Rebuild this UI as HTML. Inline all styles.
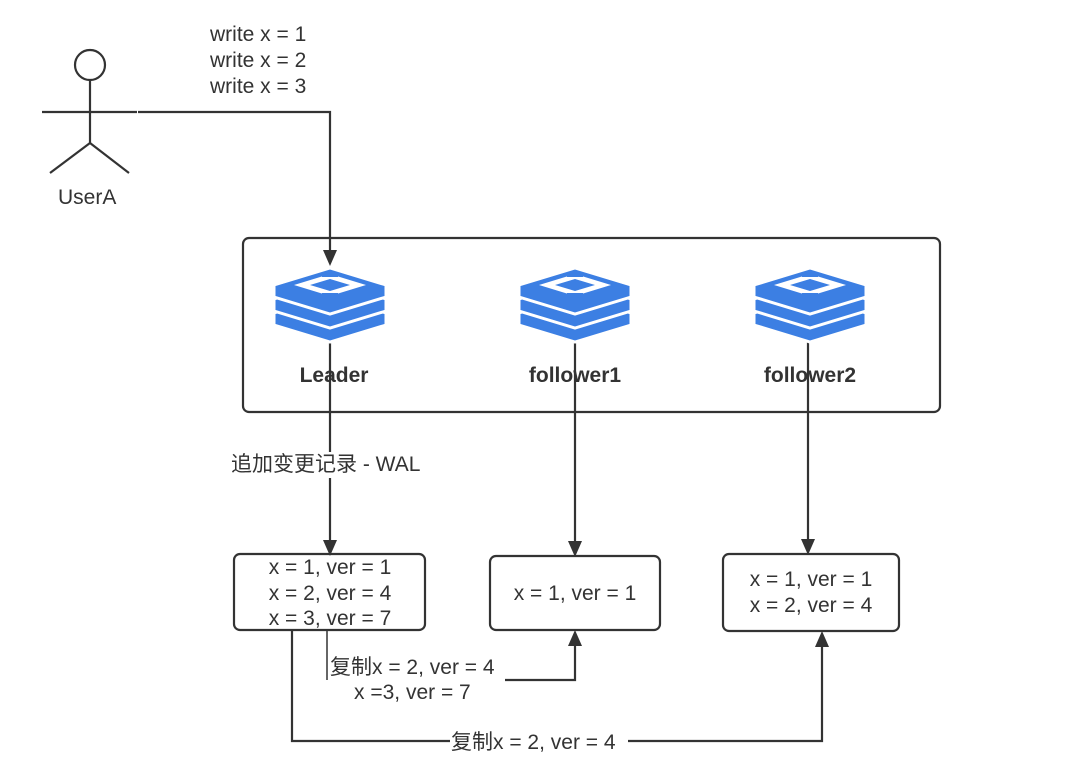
<!DOCTYPE html>
<html><head><meta charset="utf-8"><style>
html,body{margin:0;padding:0;background:#fff;}
svg{display:block;}
text{font-family:"Liberation Sans","Noto Sans CJK SC",sans-serif;fill:#333;font-size:21px;}
</style></head><body>
<svg width="1080" height="769" viewBox="0 0 1080 769" xmlns="http://www.w3.org/2000/svg">
<defs>
<g id="icon">
  <polygon points="0,28 56,45 56,57 0,74 -56,57 -56,45" fill="#3c7fe3" stroke="#fff" stroke-width="3"/>
  <polygon points="0,14 56,31 56,43 0,60 -56,43 -56,31" fill="#3c7fe3" stroke="#fff" stroke-width="3"/>
  <polygon points="0,0 56,17 56,29 0,46 -56,29 -56,17" fill="#3c7fe3" stroke="#fff" stroke-width="3"/>
  <polygon points="0,6 36,17 0,28 -36,17" fill="#fff"/>
  <polygon points="0,11 20,17 0,23 -20,17" fill="#3c7fe3"/>
  <rect x="-8" y="4" width="16" height="5" fill="#3c7fe3"/>
  <rect x="-8" y="25" width="16" height="5" fill="#3c7fe3"/>
</g>
</defs>
<g stroke="#333" stroke-width="2.2" fill="none">
  <circle cx="90" cy="65" r="15"/>
  <line x1="90" y1="80" x2="90" y2="143"/>
  <line x1="42" y1="112" x2="137" y2="112"/>
  <line x1="90" y1="143" x2="50" y2="173"/>
  <line x1="90" y1="143" x2="129" y2="173"/>
  <polyline points="138,112 330,112 330,252"/>
  <rect x="243" y="238" width="697" height="174" rx="6"/>
  <line x1="330" y1="342" x2="330" y2="542"/>
  <line x1="575" y1="342" x2="575" y2="543"/>
  <line x1="808" y1="342" x2="808" y2="541"/>
  <rect x="234" y="554" width="191" height="76" rx="6"/>
  <rect x="490" y="556" width="170" height="74" rx="6"/>
  <rect x="723" y="554" width="176" height="77" rx="6"/>
  <polyline points="292,630 292,741 822,741 822,644"/>
  <polyline points="505,680 575,680 575,644"/>
  <line x1="327" y1="631" x2="327" y2="680" stroke-width="1.5"/>
</g>
<g fill="#333">
  <polygon points="323,250 337,250 330,266"/>
  <polygon points="323,540 337,540 330,556"/>
  <polygon points="568,541 582,541 575,557"/>
  <polygon points="801,539 815,539 808,555"/>
  <polygon points="568,646 582,646 575,630"/>
  <polygon points="815,647 829,647 822,631"/>
</g>
<use href="#icon" x="330" y="268"/>
<use href="#icon" x="575" y="268"/>
<use href="#icon" x="810" y="268"/>
<rect x="450" y="730" width="178" height="24" fill="#fff"/>
<rect x="229" y="452" width="200" height="26" fill="#fff"/>
<g>
<text x="210" y="41">write x = 1</text>
<text x="210" y="67">write x = 2</text>
<text x="210" y="93">write x = 3</text>
<text x="58" y="204">UserA</text>
<text x="334" y="382" text-anchor="middle" style="font-weight:bold">Leader</text>
<text x="575" y="382" text-anchor="middle" style="font-weight:bold">follower1</text>
<text x="810" y="382" text-anchor="middle" style="font-weight:bold">follower2</text>
<text x="231" y="471">追加变更记录 - WAL</text>
<text x="330" y="574" text-anchor="middle">x = 1, ver = 1</text>
<text x="330" y="600" text-anchor="middle">x = 2, ver = 4</text>
<text x="330" y="625" text-anchor="middle">x = 3, ver = 7</text>
<text x="575" y="600" text-anchor="middle">x = 1, ver = 1</text>
<text x="811" y="586" text-anchor="middle">x = 1, ver = 1</text>
<text x="811" y="612" text-anchor="middle">x = 2, ver = 4</text>
<text x="330" y="674">复制x = 2, ver = 4</text>
<text x="354" y="699">x =3, ver = 7</text>
<text x="451" y="749">复制x = 2, ver = 4</text>
</g>
</svg>
</body></html>
